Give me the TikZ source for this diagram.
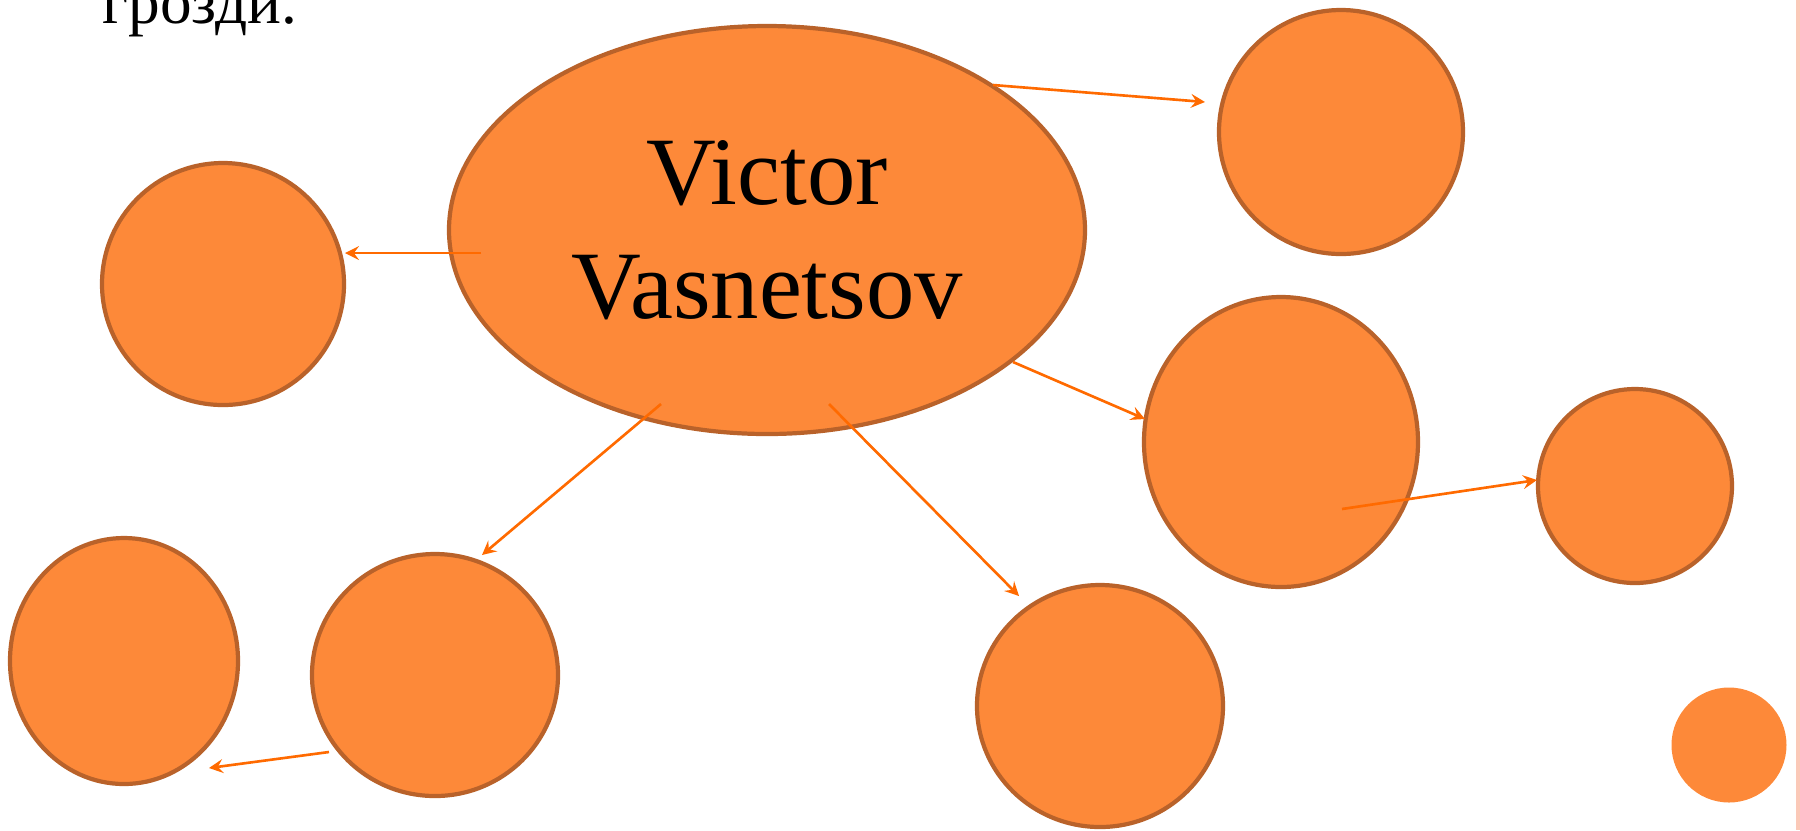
\documentclass[tikz,border=0pt]{standalone}
\usepackage{fontspec}
\setmainfont{Liberation Serif}
\usepackage{xcolor}
\usepackage{tikz}
\usetikzlibrary{shapes.geometric, arrows, positioning}

\definecolor{bubblefill}{HTML}{FD8939}
\definecolor{bubbleedge}{HTML}{B9622A}
\definecolor{linkorange}{HTML}{FF6A00}
\definecolor{sidebar}{HTML}{FBC9B8}

\begin{document}
\begin{tikzpicture}[
    bubble/.style={ellipse, draw=bubbleedge, fill=bubblefill, line width=1.2pt, inner sep=0pt},
    link/.style={->, >=stealth, line width=0.75pt, linkorange}
]

\useasboundingbox (0,0) rectangle (18,-8.3);
\fill[sidebar] (17.955,0) rectangle (18,-8.3);

% Text
\node[anchor=base west, inner sep=0pt, font=\fontsize{18}{21}\selectfont] (caption) at (1.02,-0.23) {грозди.};

% Nodes
\node[bubble, minimum width=6.36cm, minimum height=4.08cm, align=center,
      font=\fontsize{27.5}{32.5}\selectfont] (painter) at (7.67,-2.30) {Victor\\Vasnetsov};
\node[bubble, minimum width=2.42cm, minimum height=2.42cm] (left) at (2.23,-2.84) {};
\node[bubble, minimum width=2.44cm, minimum height=2.44cm] (topright) at (13.41,-1.32) {};
\node[bubble, minimum width=2.74cm, minimum height=2.90cm] (midright) at (12.81,-4.42) {};
\node[bubble, minimum width=1.94cm, minimum height=1.94cm] (farright) at (16.35,-4.86) {};
\node[bubble, minimum width=2.28cm, minimum height=2.46cm] (farleft) at (1.24,-6.61) {};
\node[bubble, minimum width=2.46cm, minimum height=2.42cm] (lowleft) at (4.35,-6.75) {};
\node[bubble, minimum width=2.46cm, minimum height=2.42cm] (lowmid) at (11.00,-7.06) {};
\node[ellipse, fill=bubblefill, minimum width=1.15cm, minimum height=1.15cm] (dot) at (17.29,-7.45) {};

% Arrow ends
\coordinate (painter-tr) at (9.93,-0.85);
\coordinate (topright-in) at (12.05,-1.02);
\coordinate (painter-l) at (4.81,-2.53);
\coordinate (left-in) at (3.45,-2.53);
\coordinate (painter-r) at (10.13,-3.62);
\coordinate (midright-in) at (11.45,-4.19);
\coordinate (midright-out) at (13.42,-5.09);
\coordinate (farright-in) at (15.37,-4.80);
\coordinate (painter-bl) at (6.61,-4.04);
\coordinate (lowleft-in) at (4.82,-5.55);
\coordinate (painter-br) at (8.29,-4.04);
\coordinate (lowmid-in) at (10.19,-5.96);
\coordinate (lowleft-out) at (3.29,-7.52);
\coordinate (farleft-in) at (2.09,-7.68);

% Arrows
\draw[link] (painter-tr) -- (topright-in);
\draw[link] (painter-l) -- (left-in);
\draw[link] (painter-r) -- (midright-in);
\draw[link] (midright-out) -- (farright-in);
\draw[link] (painter-bl) -- (lowleft-in);
\draw[link] (painter-br) -- (lowmid-in);
\draw[link] (lowleft-out) -- (farleft-in);

\end{tikzpicture}
\end{document}
